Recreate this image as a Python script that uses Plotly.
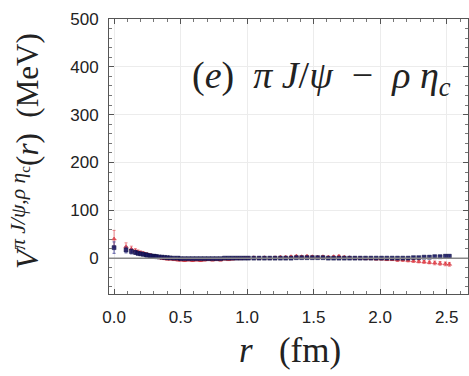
import plotly.graph_objects as go

r_vals = [0.00, 0.09, 0.13, 0.16, 0.18, 0.20, 0.22, 0.24, 0.25, 0.27, 0.28, 0.30, 0.31, 0.32,
          0.34, 0.36, 0.38, 0.40, 0.42, 0.45, 0.48, 0.50, 0.53, 0.56, 0.59, 0.62, 0.65, 0.68,
          0.71, 0.74, 0.77, 0.80, 0.83, 0.86, 0.89, 0.92, 0.95, 0.98, 1.01, 1.05, 1.09, 1.13,
          1.17, 1.21, 1.25, 1.29, 1.33, 1.37, 1.41, 1.45, 1.49, 1.53, 1.57, 1.61, 1.65, 1.69,
          1.73, 1.77, 1.81, 1.85, 1.89, 1.93, 1.97, 2.01, 2.05, 2.09, 2.13, 2.17, 2.21, 2.25,
          2.29, 2.33, 2.37, 2.41, 2.45, 2.49, 2.52]

v_red = [40, 24, 19, 15, 13, 11, 10, 8, 7, 6, 5, 4, 3, 2,
         1, 0, -1, -2, -2, -3, -4, -4, -5, -4, -5, -4, -5, -4,
         -3, -4, -3, -4, -2, -3, -2, -1, -1, 0, 0, 1, 0, 1,
         0, 1, 2, 2, 3, 4, 3, 4, 3, 2, 3, 2, 3, 4,
         2, 1, 0, 0, -1, -1, -2, -2, -3, -3, -4, -4, -5, -6,
         -7, -8, -9, -10, -11, -12, -13]
e_red = [18, 8, 6, 5, 4, 4, 3, 3, 3, 3, 2, 2, 2, 2,
         2, 2, 2, 2, 2, 2, 2, 2, 2, 2, 2, 2, 2, 2,
         2, 2, 2, 2, 2, 2, 2, 2, 2, 2, 2, 2, 2, 2,
         2, 2, 2, 2, 2, 2, 2, 2, 2, 2, 2, 2, 2, 2,
         2, 2, 2, 2, 2, 2, 2, 2, 2, 2, 3, 3, 3, 3,
         3, 3, 3, 4, 4, 4, 4]

v_blue = [22, 17, 14, 12, 10, 9, 8, 7, 6, 5, 4.5, 4, 3.5, 3,
          2.5, 2, 1.5, 1, 0.5, 0, 0, -1, -1, -1, -1, -1, -1, -1,
          -1, -1, -1, -1, 0, 0, 0, 0, 0, 0, 0, 0, 0, 0,
          0, 0, 0, 0, 0, 1, 1, 1, 1, 1, 1, 0, 0, 0,
          0, 0, 0, 0, 0, 0, 0, 0, 0, 0, 0, 0, 0, 1,
          1, 2, 2, 3, 3, 4, 4]
e_blue = [12, 6, 5, 4, 3, 3, 3, 2, 2, 2, 2, 2, 2, 2,
          2, 2, 2, 2, 2, 2, 2, 2, 2, 2, 2, 2, 2, 2,
          2, 2, 2, 2, 2, 2, 2, 2, 2, 2, 2, 2, 2, 2,
          2, 2, 2, 2, 2, 2, 2, 2, 2, 2, 2, 2, 2, 2,
          2, 2, 2, 2, 2, 2, 2, 2, 2, 2, 2, 2, 2, 2,
          2, 2, 3, 3, 3, 3, 3]

x_ticks = [0.0, 0.5, 1.0, 1.5, 2.0, 2.5]
x_labels = ["0.0", "0.5", "1.0", "1.5", "2.0", "2.5"]
y_ticks = [0, 100, 200, 300, 400, 500]

SERIF = "'Liberation Serif', 'Times New Roman', 'DejaVu Serif', serif"

fig = go.Figure()
fig.add_trace(go.Scatter(
    x=r_vals, y=v_red, mode="markers",
    error_y=dict(type="data", array=e_red, color="rgba(230,60,70,0.6)", thickness=1, width=1.5),
    marker=dict(symbol="triangle-up", size=4, color="rgba(230,50,60,0.75)",
                line=dict(width=0.5, color="rgba(200,30,40,0.9)")),
    showlegend=False))
fig.add_trace(go.Scatter(
    x=r_vals, y=v_blue, mode="markers",
    error_y=dict(type="data", array=e_blue, color="rgba(30,30,130,0.6)", thickness=1.2, width=1.5),
    marker=dict(symbol="square", size=4, color="rgba(25,25,100,0.85)",
                line=dict(width=0.5, color="rgba(10,10,60,0.9)")),
    showlegend=False))

axis_common = dict(
    showline=True, linecolor="#555", linewidth=1, mirror="ticks",
    ticks="inside", ticklen=5, tickcolor="#555",
    showgrid=True, gridcolor="#ececec", gridwidth=1,
    zeroline=False,
    tickfont=dict(family="'Liberation Sans', Arial, sans-serif", size=17, color="#222"),
)

fig.update_xaxes(range=[-0.038, 2.66], tickvals=x_ticks, ticktext=x_labels,
                 minor=dict(dtick=0.1, ticks="inside", ticklen=3, tickcolor="#777", showgrid=False),
                 ticklabelstandoff=8, **axis_common)
fig.update_yaxes(range=[-75, 500], tickvals=y_ticks,
                 minor=dict(dtick=20, ticks="inside", ticklen=3, tickcolor="#777", showgrid=False),
                 ticklabelstandoff=6, **axis_common)

fig.add_hline(y=0, line=dict(color="#888", width=1.5))

fig.add_annotation(
    text="(<i>e</i>)  <i>π J</i>/<i>ψ</i>  −  <i>ρ η</i><sub><i>c</i></sub>",
    xref="paper", yref="paper", x=0.226, y=0.785, xanchor="left", yanchor="middle",
    showarrow=False, font=dict(family=SERIF, size=38, color="#222"))

fig.add_annotation(
    text="<i>r</i>   (fm)",
    xref="paper", yref="paper", x=0.504, y=-0.204, xanchor="center", yanchor="middle",
    showarrow=False, font=dict(family=SERIF, size=35, color="#222"))

fig.add_annotation(
    text="<i>V</i><sup><i>π J/ψ,ρ η</i><sub>c</sub></sup>(<i>r</i>)  (MeV)",
    xref="paper", yref="paper", x=-0.234, y=0.52, xanchor="center", yanchor="middle",
    textangle=-90, showarrow=False, font=dict(family=SERIF, size=31, color="#222"))

fig.update_layout(
    width=469, height=376,
    margin=dict(l=109, r=1, t=19, b=82),
    plot_bgcolor="white", paper_bgcolor="white",
)

fig.write_html("out.html")
